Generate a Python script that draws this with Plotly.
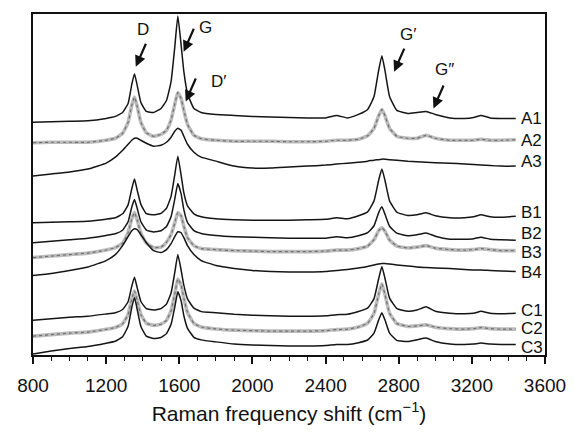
import plotly.graph_objects as go

# Raman shift grid (cm^-1)
SHIFT = [800, 900, 1000, 1100, 1200, 1250, 1290, 1320, 1340, 1355, 1370, 1390, 1420, 1460,
         1500, 1530, 1555, 1575, 1592, 1610, 1625, 1645, 1680, 1720, 1800, 1900, 2000, 2100,
         2200, 2300, 2400, 2460, 2520, 2580, 2630, 2665, 2690, 2708, 2725, 2750, 2790, 2850,
         2900, 2950, 3000, 3080, 3160, 3210, 3250, 3300, 3360, 3440]

# Stacked intensities (arbitrary units, offsets included)
A1 = [234, 234.5, 235, 235.5, 238, 240, 244, 253, 272, 283, 271, 254, 245, 244, 248, 256, 275, 309, 341,
      312, 285, 263, 248, 244, 242, 241, 240, 239.5, 239, 238.5, 238.5, 241, 238.5, 242, 247, 260, 286,
      301, 286, 260, 246, 243, 244, 245, 242, 238.5, 238, 239, 241, 238.5, 238, 238]
A2 = [213.5, 214, 214, 214, 216, 218, 223, 234, 251, 259.5, 250, 234, 223.5, 220, 222, 226, 236.5, 252,
      264, 258, 246, 232, 221, 217.6, 216, 215, 215, 215, 214.5, 214.5, 215, 216, 216, 217, 220.5, 228,
      240.5, 247, 240.5, 228, 220, 218, 218, 221, 218, 216, 216, 216, 217, 216, 216, 216.5]
A3 = [180, 182, 184, 187, 193, 199, 206, 212, 216, 218, 218, 216, 213, 210, 211, 214, 219, 225, 228, 226,
      220, 212, 204, 199, 195, 190, 188, 188, 189, 190, 191, 192, 193, 194, 195, 196, 196.5, 197, 197,
      196.5, 196, 195, 194.5, 194, 193.5, 193, 192, 191.5, 191, 190.5, 190, 190]
B1 = [133, 133.5, 134, 134.5, 136.6, 138, 142, 151, 167, 177, 165.6, 151.5, 142.1, 141, 142.5, 147.6,
      159.6, 181, 200, 181, 163, 150, 142, 139, 137, 136, 135.5, 135.5, 135.5, 136, 136.5, 138, 137, 140,
      144, 155, 175.5, 187, 175.5, 155, 143.6, 140.4, 141, 143, 140, 138, 138, 139, 141, 139, 138.5, 139.5]
B2 = [113, 114.5, 116, 117.5, 120.3, 122, 125.5, 134, 148.6, 156.4, 147.3, 134, 125.7, 123.8, 125, 129.3,
      139, 156.5, 172.5, 162, 146, 133.3, 125, 122.3, 120.3, 119, 118.5, 118, 117.5, 117.5, 117.5, 119,
      118, 120, 123, 130, 143, 149, 141.5, 129.5, 122.5, 120, 121, 122.7, 119.5, 116.5, 116.5, 117, 118.5,
      116.5, 116, 115.5]
B3 = [98, 99.5, 101, 102.5, 105.6, 108, 112.5, 123, 137, 143.3, 135.8, 122.5, 112.7, 108, 108.5, 113.6,
      121.2, 132.6, 143.2, 140, 129.4, 117.9, 110, 107, 106, 105, 104.5, 104, 104, 104, 104.5, 105.5,
      105.5, 107, 109.5, 116, 125, 128, 124.5, 115.5, 109.6, 107.7, 108.5, 110, 107.5, 106, 105.5, 106,
      107, 106, 105, 105]
B4 = [80, 82, 85, 88.5, 95, 101, 110, 119, 125, 127, 126, 121, 113, 105, 103, 106, 112, 119, 124, 123,
      118, 110, 101, 95, 90, 87, 85, 84, 83.5, 83.5, 84, 85, 86, 87.5, 89, 90.5, 91.5, 92, 92, 91.5, 90.5,
      89.5, 88.5, 88, 87.5, 87, 86, 85.5, 85.5, 85, 84.5, 84]
C1 = [35, 36.5, 38, 39, 41.3, 42.5, 45.8, 53.5, 69, 78.3, 67.5, 53.8, 46.6, 45.3, 46.7, 51.2, 62.3, 82.5,
      101, 85.5, 70, 56.4, 47.2, 43.6, 42.5, 41, 40, 39.5, 39, 39, 39.5, 40.5, 41, 43.8, 47.2, 56.7, 76.5,
      89, 77, 57.2, 46.7, 44, 45.2, 48.5, 44, 42, 41.5, 42, 44, 42, 41.5, 42]
C2 = [19, 20.5, 22, 23, 25.8, 27.7, 31.3, 40.8, 56.3, 64.4, 54.8, 40.6, 32, 29.8, 31, 34.9, 44.3, 61,
      76.5, 70.4, 57, 42.8, 31.8, 28.2, 26.2, 25, 24.5, 24, 24, 24, 24.5, 25.5, 26, 28.2, 32, 42, 60.8,
      71.5, 60.8, 42, 31.6, 28.7, 29.3, 30.3, 28, 26.5, 26, 26.5, 27.5, 26.5, 26, 26]
C3 = [1, 4, 6.5, 8.5, 11.9, 13.9, 18.4, 28.8, 47.7, 57.9, 45.6, 28.7, 19, 16.5, 17.6, 21.5, 30.9, 48,
      63.5, 54.4, 39.5, 26.8, 17.8, 15.2, 13.2, 11, 10, 9.5, 9, 9, 9.5, 10.5, 10.5, 12.4, 15.1, 22.1, 35.1,
      42.5, 35.1, 22.1, 14.7, 13.5, 15.4, 17.1, 13.5, 11, 10.5, 11, 12, 11, 10.5, 10.5]

SERIES_NAMES = ["A1", "A2", "A3", "B1", "B2", "B3", "B4", "C1", "C2", "C3"]
SERIES = [A1, A2, A3, B1, B2, B3, B4, C1, C2, C3]
STIPPLED = ["A2", "B3", "C2"]
LABEL_Y = [238, 216, 195, 143, 122, 103, 83, 45, 27, 8]

X_TICKS = [800, 1200, 1600, 2000, 2400, 2800, 3200, 3600]

PEAKS = ["D", "G", "D\u2032", "G\u2032", "G\u2033"]
PEAK_TIP_X = [1362, 1624, 1635, 2775, 2990]
PEAK_TIP_Y = [290, 305, 255, 285, 248]
PEAK_TEXT_X = [1400, 1742, 1812, 2850, 3048]
PEAK_TEXT_Y = [327, 329, 275, 322, 287]

for s in SERIES:
    assert len(s) == len(SHIFT)

FONT = "Arial, Liberation Sans, Helvetica, sans-serif"
fig = go.Figure()
for name, ys in zip(SERIES_NAMES, SERIES):
    if name in STIPPLED:
        fig.add_trace(go.Scatter(x=SHIFT, y=ys, mode="lines", name=name,
                                 line=dict(color="#bcbcbc", width=3.6, shape="spline", smoothing=0.4),
                                 showlegend=False, hoverinfo="skip"))
        fig.add_trace(go.Scatter(x=SHIFT, y=ys, mode="lines", name=name,
                                 line=dict(color="#707070", width=1.2, dash="dot", shape="spline", smoothing=0.4),
                                 showlegend=False))
    else:
        fig.add_trace(go.Scatter(x=SHIFT, y=ys, mode="lines", name=name,
                                 line=dict(color="#151515", width=1.5, shape="spline", smoothing=0.4),
                                 showlegend=False))

annotations = []
for name, ly in zip(SERIES_NAMES, LABEL_Y):
    annotations.append(dict(x=3458, y=ly, xref="x", yref="y", text=name, showarrow=False,
                            xanchor="left", yanchor="middle",
                            font=dict(family=FONT, size=17, color="#111")))
for txt, tx, ty, px, py in zip(PEAKS, PEAK_TIP_X, PEAK_TIP_Y, PEAK_TEXT_X, PEAK_TEXT_Y):
    annotations.append(dict(x=tx, y=ty, xref="x", yref="y", text=" ", font=dict(size=1),
                            showarrow=True, arrowhead=2, arrowsize=1, arrowwidth=2.2,
                            arrowcolor="#111", ax=11, ay=-25, standoff=0, startstandoff=0))
    annotations.append(dict(x=px, y=py, xref="x", yref="y", text=txt, showarrow=False,
                            xanchor="center", yanchor="middle",
                            font=dict(family=FONT, size=17, color="#111")))

fig.update_layout(
    width=578, height=435,
    margin=dict(l=33, r=22, t=12, b=80),
    paper_bgcolor="white", plot_bgcolor="white",
    annotations=annotations,
    xaxis=dict(range=[800, 3600], tickvals=X_TICKS, ticks="outside", ticklen=7, tickwidth=1.5,
               tickcolor="#111", showline=True, linewidth=1.5, linecolor="#111", mirror=True,
               showgrid=False, zeroline=False, ticklabeloverflow="allow",
               minor=dict(ticks="outside", ticklen=4, tickwidth=1, tickcolor="#111", dtick=100, showgrid=False),
               tickfont=dict(family=FONT, size=19, color="#111"), ticklabelstandoff=5,
               title=dict(text="Raman frequency shift (cm<sup>\u22121</sup>)",
                          font=dict(family=FONT, size=21, color="#111"), standoff=12)),
    yaxis=dict(range=[0, 343], showticklabels=False, ticks="", showline=True, linewidth=1.5,
               linecolor="#111", mirror=True, showgrid=False, zeroline=False),
)

fig.write_html("out.html")
